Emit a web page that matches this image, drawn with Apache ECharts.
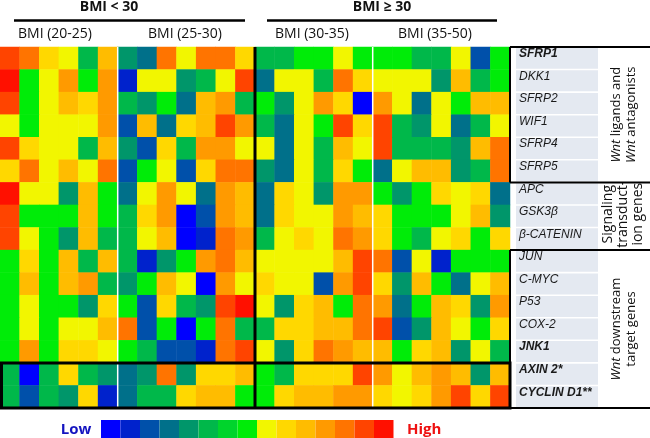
<!DOCTYPE html>
<html>
<head>
<meta charset="utf-8">
<script src="https://cdn.jsdelivr.net/npm/echarts@6/dist/echarts.min.js"></script>
<style>
  html, body { margin: 0; padding: 0; background: #fff; }
  #chart { width: 650px; height: 438px; }
</style>
</head>
<body>
<div id="chart"></div>
<script>
// genes, top to bottom
const genes = ['SFRP1', 'DKK1', 'SFRP2', 'WIF1', 'SFRP4', 'SFRP5', 'APC', 'GSK3β', 'β-CATENIN',
  'JUN', 'C-MYC', 'P53', 'COX-2', 'JNK1', 'AXIN 2*', 'CYCLIN D1**'];
const boldGenes = ['SFRP1', 'JNK1', 'AXIN 2*', 'CYCLIN D1**'];

// 26 samples: BMI 20-25 (6), 25-30 (7), 30-35 (6), 35-50 (7)
const samples = ['a1', 'a2', 'a3', 'a4', 'a5', 'a6',
  'b1', 'b2', 'b3', 'b4', 'b5', 'b6', 'b7',
  'c1', 'c2', 'c3', 'c4', 'c5', 'c6',
  'd1', 'd2', 'd3', 'd4', 'd5', 'd6', 'd7'];

// expression level, 0 = low ... 14 = high
const sfrp1 = [13, 12, 9, 8, 5, 10, 4, 3, 12, 8, 12, 12, 9, 5, 5, 7, 7, 8, 7, 7, 7, 5, 5, 8, 2, 7];
const dkk1 = [14, 7, 8, 11, 7, 11, 1, 8, 8, 4, 5, 8, 13, 3, 8, 8, 5, 12, 9, 8, 8, 8, 4, 10, 5, 7];
const sfrp2 = [13, 7, 8, 10, 9, 11, 5, 4, 7, 3, 10, 11, 5, 7, 4, 8, 11, 9, 0, 11, 8, 3, 8, 7, 10, 10];
const wif1 = [8, 7, 8, 8, 8, 11, 2, 10, 3, 9, 10, 13, 11, 5, 3, 8, 7, 13, 9, 13, 5, 4, 8, 3, 5, 8];
const sfrp4 = [13, 9, 8, 8, 5, 10, 4, 2, 9, 5, 11, 11, 8, 8, 3, 8, 5, 10, 8, 13, 5, 5, 5, 4, 10, 12];
const sfrp5 = [9, 12, 8, 10, 8, 12, 2, 7, 8, 2, 9, 12, 12, 4, 3, 8, 5, 9, 7, 3, 8, 10, 10, 4, 5, 12];
const apc = [14, 8, 8, 4, 10, 7, 3, 8, 11, 8, 3, 11, 10, 3, 9, 8, 4, 11, 11, 7, 4, 7, 9, 8, 9, 3];
const gsk3b = [13, 7, 7, 7, 10, 7, 5, 9, 11, 0, 2, 11, 10, 3, 9, 8, 8, 11, 10, 9, 7, 7, 7, 8, 10, 4];
const bCatenin = [13, 8, 7, 4, 10, 5, 5, 8, 10, 0, 1, 12, 11, 5, 8, 9, 8, 12, 11, 9, 7, 5, 8, 9, 7, 9];
const jun = [7, 9, 7, 10, 5, 10, 5, 1, 4, 7, 11, 12, 10, 8, 8, 8, 8, 10, 13, 12, 2, 8, 1, 7, 7, 7];
const cMyc = [7, 10, 7, 10, 11, 5, 4, 7, 10, 8, 0, 11, 8, 9, 8, 8, 2, 11, 13, 9, 4, 10, 7, 3, 8, 10];
const p53 = [7, 8, 7, 7, 4, 9, 7, 2, 9, 5, 4, 13, 14, 8, 4, 9, 10, 7, 12, 11, 3, 7, 10, 9, 4, 11];
const cox2 = [7, 8, 7, 8, 8, 10, 12, 2, 7, 0, 7, 12, 5, 5, 9, 9, 10, 10, 12, 13, 2, 4, 10, 8, 7, 9];
const jnk1 = [7, 11, 7, 9, 9, 8, 7, 5, 2, 2, 1, 12, 13, 8, 4, 9, 12, 11, 10, 10, 7, 9, 10, 4, 8, 5];
const axin2 = [5, 0, 5, 9, 5, 4, 3, 4, 12, 4, 9, 9, 10, 7, 5, 9, 9, 9, 13, 11, 8, 10, 11, 10, 4, 10];
const cyclinD1 = [5, 2, 5, 4, 9, 1, 3, 5, 5, 9, 10, 10, 7, 7, 9, 10, 10, 11, 11, 9, 8, 9, 11, 13, 9, 13];

const rows = [sfrp1, dkk1, sfrp2, wif1, sfrp4, sfrp5, apc, gsk3b, bCatenin,
  jun, cMyc, p53, cox2, jnk1, axin2, cyclinD1];

const levelColors = ['#0000ff', '#0022cc', '#0050aa', '#00708a', '#00966a', '#00b84a', '#00d42c', '#00ec08',
  '#f2f600', '#ffd800', '#ffbc00', '#ff9a00', '#ff7400', '#ff4400', '#ff1000'];

const FONT = '"Open Sans", sans-serif';

const data = [];
rows.forEach((vals, r) => {
  vals.forEach((v, c) => data.push([c, r, v]));
});

const chart = echarts.init(document.getElementById('chart'));

const option = {
  animation: false,
  grid: { left: -3, right: 140, top: 47, bottom: 30 },
  xAxis: {
    type: 'category',
    data: samples,
    show: false
  },
  yAxis: {
    type: 'category',
    data: genes,
    inverse: true,
    position: 'right',
    axisLine: { show: false },
    axisTick: { show: false },
    splitLine: { show: false },
    axisLabel: {
      margin: 6,
      align: 'left',
      verticalAlign: 'middle',
      backgroundColor: '#e4e9f1',
      width: 79,
      height: 21,
      padding: [0, 0, 0, 3],
      fontFamily: '"Liberation Sans", sans-serif',
      fontSize: 12,
      fontStyle: 'italic',
      color: '#1a1a1a',
      formatter: (v) => boldGenes.includes(v) ? '{b|' + v + '}' : v,
      rich: {
        b: { fontWeight: 'bold', fontStyle: 'italic', fontSize: 12, color: '#1a1a1a',
          fontFamily: '"Liberation Sans", sans-serif' }
      }
    }
  },
  visualMap: {
    type: 'piecewise',
    pieces: levelColors.map((c, i) => ({ value: i, color: c })),
    orient: 'horizontal',
    left: 101,
    top: 420,
    padding: 0,
    itemWidth: 19.5,
    itemHeight: 18,
    itemGap: 0,
    itemSymbol: 'rect',
    showLabel: false,
    selectedMode: false,
    hoverLink: false
  },
  series: [
    {
      type: 'heatmap',
      data: data,
      itemStyle: { borderWidth: 0 },
      emphasis: { disabled: true }
    }
  ]
};
chart.setOption(option);

// separators and labels, placed from the grid
const p0 = chart.convertToPixel({ gridIndex: 0 }, [0, 0]);
const p1 = chart.convertToPixel({ gridIndex: 0 }, [1, 1]);
const cw = p1[0] - p0[0];
const rh = p1[1] - p0[1];
const colX = (k) => p0[0] + (k - 0.5) * cw;
const rowY = (k) => p0[1] + (k - 0.5) * rh;
const xEnd = colX(26);

const line = (x1, y1, x2, y2, w, color) => ({
  type: 'line', z: 100,
  shape: { x1, y1, x2, y2 },
  style: { stroke: color, lineWidth: w }
});
const text = (x, y, t, extra, rot) => ({
  type: 'text', z: 50, x, y, rotation: rot || 0,
  style: Object.assign({ text: t, fontFamily: FONT, fontSize: 14, fill: '#111',
    align: 'center', verticalAlign: 'middle' }, extra)
});
const italicRich = { i: { fontStyle: 'italic', fontSize: 13, fontFamily: FONT, fill: '#111' } };

const graphics = [
  // header
  text(109, 7, 'BMI < 30', { fontWeight: 'bold' }),
  text(382, 7, 'BMI ≥ 30', { fontWeight: 'bold' }),
  line(14, 20.5, 245, 20.5, 2.5, '#000'),
  line(267, 20.5, 497, 20.5, 2.5, '#000'),
  text(55, 34, 'BMI (20-25)'),
  text(185, 34, 'BMI (25-30)'),
  text(312, 34, 'BMI (30-35)'),
  text(435, 34, 'BMI (35-50)'),
  // group separators inside heatmap
  line(colX(6), rowY(0), colX(6), rowY(16), 1.5, '#fff'),
  line(colX(19), rowY(0), colX(19), rowY(16), 1.5, '#fff'),
  line(colX(13), rowY(0), colX(13), rowY(16), 3, '#000'),
  {
    type: 'rect', z: 100,
    shape: { x: 1.5, y: rowY(14), width: xEnd - 1.5, height: rowY(16) - rowY(14) },
    style: { fill: null, stroke: '#000', lineWidth: 3 }
  },
  // right panel frame
  line(xEnd, rowY(0), 650, rowY(0), 2, '#000'),
  line(xEnd, rowY(6), 650, rowY(6), 2, '#000'),
  line(xEnd, rowY(9), 650, rowY(9), 2, '#000'),
  line(xEnd, rowY(16), 650, rowY(16), 2, '#000'),
  line(xEnd, rowY(0), xEnd, rowY(6), 2, '#000'),
  line(xEnd, rowY(9), xEnd, rowY(16), 2, '#000'),
  // gene group labels (rotated)
  text(623.5, (rowY(0) + rowY(6)) / 2, '{i|Wnt} ligands and\n{i|Wnt} antagonists',
    { fontSize: 13, lineHeight: 15, rich: italicRich }, Math.PI / 2),
  text(623, (rowY(6) + rowY(9)) / 2 - 2, 'Signaling\ntransduct-\nion genes',
    { fontSize: 14, lineHeight: 15 }, Math.PI / 2),
  text(623.5, (rowY(9) + rowY(16)) / 2, '{i|Wnt} downstream\ntarget genes',
    { fontSize: 13, lineHeight: 15, rich: italicRich }, Math.PI / 2),
  // clip overflow of the signaling label
  { type: 'rect', z: 60, shape: { x: 599, y: 164, width: 51, height: rowY(6) - 164 }, style: { fill: '#fff' } },
  { type: 'rect', z: 60, shape: { x: 599, y: rowY(9), width: 51, height: 24 }, style: { fill: '#fff' } },
  // colour scale ends
  text(76, 430, 'Low', { fontWeight: 'bold', fontSize: 15, fill: '#1414c0' }),
  text(407, 430, 'High', { fontWeight: 'bold', fontSize: 15, fill: '#ee1111', align: 'left' })
];

chart.setOption({ graphic: graphics });
</script>
</body>
</html>
